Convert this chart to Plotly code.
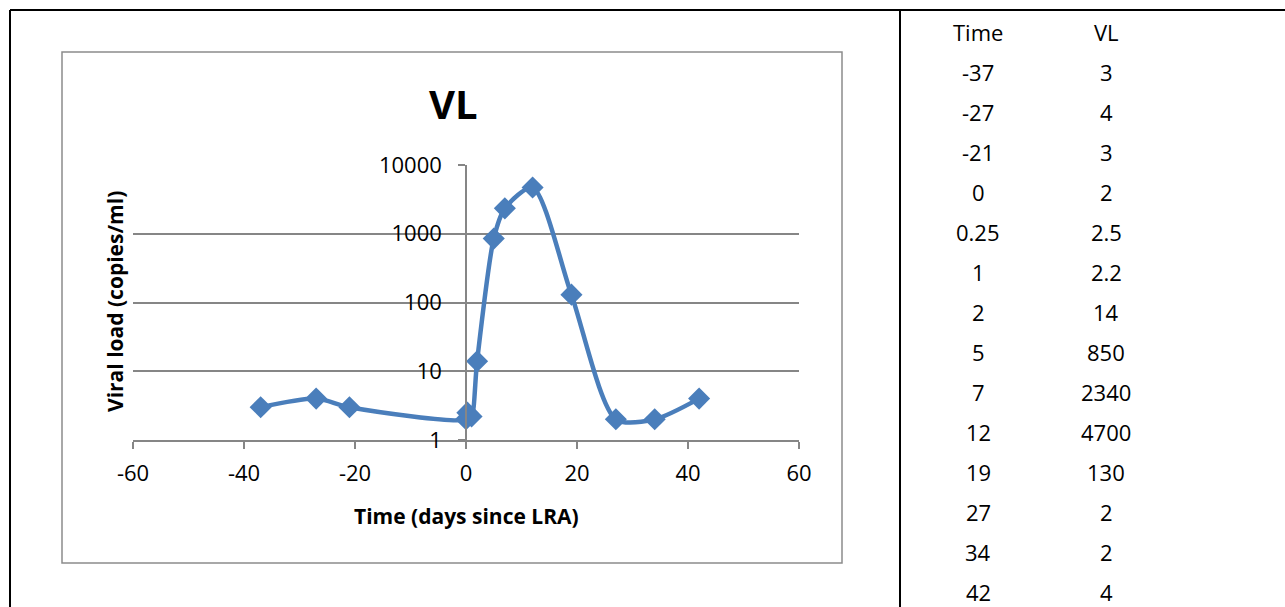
import plotly.graph_objects as go

# Data
time_days = [-37, -27, -21, 0, 0.25, 1, 2, 5, 7, 12, 19, 27, 34, 42]
viral_load = [3, 4, 3, 2, 2.5, 2.2, 14, 850, 2340, 4700, 130, 2, 2, 4]
x_ticks = [-60, -40, -20, 0, 20, 40, 60]
y_ticks = [1, 10, 100, 1000, 10000]
table_headers = ["Time", "VL"]

W, H = 1285, 607
L, R, T, B = 133, 799, 165, 440  # plot area in pixels
FONT = "Open Sans"
BLUE = "#4a7ebb"
GRID = "#868686"


def px(xp):
    return (xp - L) / (R - L)


def py(yp):
    return (B - yp) / (B - T)


fig = go.Figure()
fig.add_trace(go.Scatter(
    x=time_days, y=viral_load, mode="lines+markers",
    line=dict(color=BLUE, width=4.5, shape="spline", smoothing=0.75),
    marker=dict(symbol="diamond", size=17, color=BLUE),
    showlegend=False, hoverinfo="x+y",
))

shapes = []
# outer table borders
shapes.append(dict(type="line", xref="paper", yref="paper", x0=px(10), x1=px(W + 5), y0=py(10), y1=py(10),
                   line=dict(color="black", width=2)))
shapes.append(dict(type="line", xref="paper", yref="paper", x0=px(10), x1=px(10), y0=py(10), y1=py(H + 5),
                   line=dict(color="black", width=2)))
shapes.append(dict(type="line", xref="paper", yref="paper", x0=px(900), x1=px(900), y0=py(10), y1=py(H + 5),
                   line=dict(color="black", width=2)))
# chart frame
shapes.append(dict(type="rect", xref="paper", yref="paper", x0=px(62), x1=px(842), y0=py(52), y1=py(563),
                   line=dict(color="#8c8c8c", width=1.5), layer="below"))

annotations = []
annotations.append(dict(text="<b>VL</b>", xref="paper", yref="paper", x=px(453), y=py(104),
                        showarrow=False, font=dict(family=FONT, size=40, color="black"),
                        xanchor="center", yanchor="middle"))
annotations.append(dict(text="<b>Viral load (copies/ml)</b>", xref="paper", yref="paper", x=px(115), y=py(302),
                        showarrow=False, textangle=-90, font=dict(family=FONT, size=21, color="black"),
                        xanchor="center", yanchor="middle"))
annotations.append(dict(text="<b>Time (days since LRA)</b>", xref="paper", yref="paper", x=px(466), y=py(516),
                        showarrow=False, font=dict(family=FONT, size=21, color="black"),
                        xanchor="center", yanchor="middle"))

# data table
col_x = [978, 1106]
row0, dy = 32, 40
for j, h in enumerate(table_headers):
    annotations.append(dict(text=h, xref="paper", yref="paper", x=px(col_x[j]), y=py(row0),
                            showarrow=False, font=dict(family=FONT, size=22, color="black"),
                            xanchor="center", yanchor="middle"))
for i, (t, v) in enumerate(zip(time_days, viral_load)):
    yy = py(row0 + dy * (i + 1))
    for j, val in enumerate((t, v)):
        annotations.append(dict(text=f"{val:g}", xref="paper", yref="paper", x=px(col_x[j]), y=yy,
                                showarrow=False, font=dict(family=FONT, size=22, color="black"),
                                xanchor="center", yanchor="middle"))

fig.update_layout(
    width=W, height=H,
    margin=dict(l=L, r=W - R, t=T, b=H - B, pad=0),
    paper_bgcolor="white", plot_bgcolor="white",
    font=dict(family=FONT, size=22, color="black"),
    xaxis=dict(range=[-60, 60], tickvals=x_ticks, ticktext=[str(v) for v in x_ticks],
               showgrid=False, zeroline=False,
               showline=True, linecolor=GRID, linewidth=1.5, ticks="outside", ticklen=7,
               tickcolor=GRID, tickwidth=1.5, ticklabelstandoff=6, fixedrange=True),
    yaxis=dict(type="log", range=[0, 4], tickvals=y_ticks, ticktext=[str(v) for v in y_ticks],
               showgrid=True, gridcolor=GRID, gridwidth=1.5, zeroline=False,
               showline=True, linecolor=GRID, linewidth=1.5, ticks="outside", ticklen=7,
               tickcolor=GRID, tickwidth=1.5, anchor="free", position=0.5, ticklabelstandoff=12,
               fixedrange=True),
    shapes=shapes, annotations=annotations,
)

fig.write_html("out.html", config={"displayModeBar": False},
               post_script="document.body.style.margin='0';document.body.style.overflow='hidden';")
